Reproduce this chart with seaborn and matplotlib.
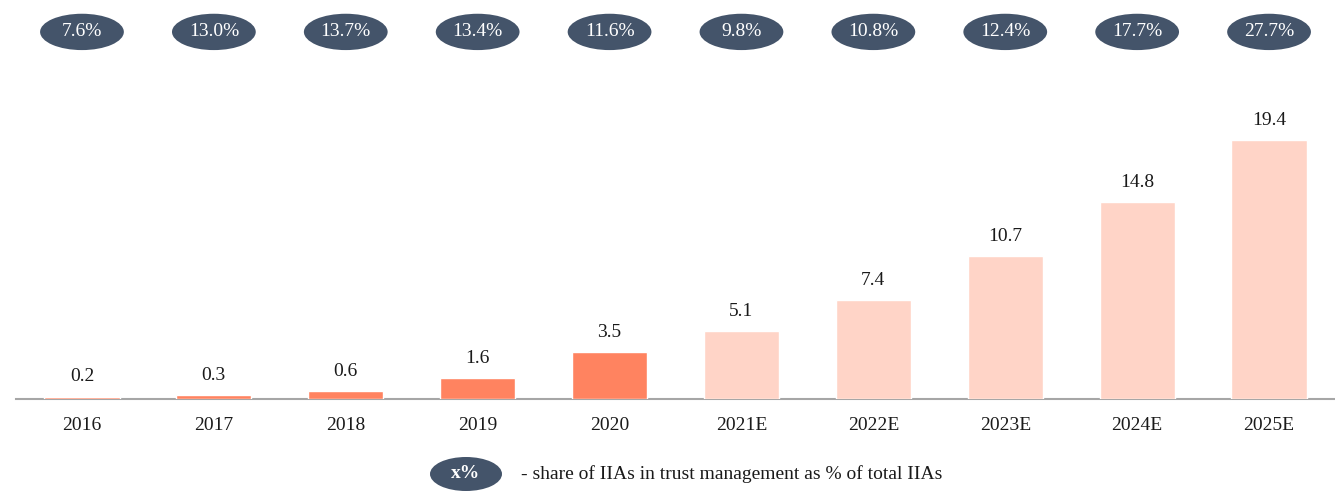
import numpy as np
import pandas as pd
import matplotlib.pyplot as plt
import matplotlib.transforms as mtransforms
from matplotlib.patches import Ellipse
import seaborn as sns

# data
years = ['2016', '2017', '2018', '2019', '2020', '2021E', '2022E', '2023E', '2024E', '2025E']
values = [0.2, 0.3, 0.6, 1.6, 3.5, 5.1, 7.4, 10.7, 14.8, 19.4]
shares = ['7.6%', '13.0%', '13.7%', '13.4%', '11.6%', '9.8%', '10.8%', '12.4%', '17.7%', '27.7%']
kind = ['fact'] * 5 + ['forecast'] * 5

legend_badge = 'x%'
legend_text = '- share of IIAs in trust management as % of total IIAs'

ACTUAL = '#ff8360'
ESTIMATE = '#ffd4c7'
BADGE = '#44546a'
FS = 14

df = pd.DataFrame({'year': years, 'value': values, 'kind': kind})

sns.set_style('white')
plt.rcParams['font.family'] = ['Liberation Serif', 'DejaVu Serif']

fig = plt.figure(figsize=(13.35, 4.91), dpi=100)
ax = fig.add_axes([0.012, 0.187, 0.988, 0.609])

sns.barplot(data=df, x='year', y='value', hue='kind',
            palette={'fact': ACTUAL, 'forecast': ESTIMATE}, saturation=1,
            dodge=False, width=0.57, legend=False, ax=ax)

ax.set_xlim(-0.5, 9.5)
ax.set_ylim(0, 22.4)
ax.set_xlabel('')
ax.set_ylabel('')
ax.set_yticks([])
for s in ['top', 'right', 'left']:
    ax.spines[s].set_visible(False)
ax.spines['bottom'].set_color('#a6a6a6')
ax.spines['bottom'].set_linewidth(1.5)
ax.spines['bottom'].set_zorder(0.5)
ax.tick_params(axis='x', length=0, pad=13, labelsize=FS, colors='#1a1a1a')

# value labels
for i, v in enumerate(values):
    ax.annotate(f'{v:.1f}', (i, v), xytext=(0, 8), textcoords='offset points',
                ha='center', va='bottom', fontsize=FS, color='#1a1a1a')

# share badges on top
trans = mtransforms.blended_transform_factory(ax.transData, fig.transFigure)
for i, s in enumerate(shares):
    ax.add_patch(Ellipse((i, 0.935), 0.635, 0.074, transform=trans,
                         facecolor=BADGE, edgecolor='none', clip_on=False))
    ax.text(i, 0.935, s, transform=trans, ha='center', va='center',
            fontsize=FS, color='white')

# legend below
fig.patches.append(Ellipse((466 / 1335, 1 - 474 / 491), 72 / 1335, 34 / 491,
                           transform=fig.transFigure, facecolor=BADGE, edgecolor='none'))
fig.text(466 / 1335, 1 - 474 / 491, legend_badge, ha='center', va='center',
         fontsize=FS, color='white', fontweight='bold')
fig.text(521 / 1335, 1 - 474 / 491, legend_text, ha='left', va='center',
         fontsize=FS, color='#1a1a1a')

plt.savefig('out.png', dpi=100)
